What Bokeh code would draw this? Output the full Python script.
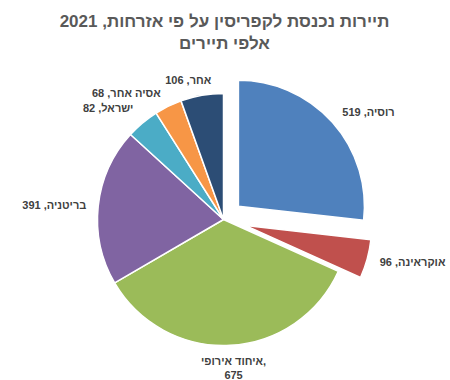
import math
from bokeh.plotting import figure
from bokeh.models import Range1d
from bokeh.embed import file_html
from bokeh.resources import INLINE
from bokeh.core.properties import value

# ---- data ----
categories = ["רוסיה", "אוקראינה", "איחוד אירופי", "בריטניה", "ישראל", "אסיה אחר", "אחר"]
visitors = [519, 96, 675, 391, 82, 68, 106]
title_lines = ["תיירות נכנסת לקפריסין על פי אזרחות, 2021", "אלפי תיירים"]

# ---- style ----
colors = ["#4F81BD", "#C0504D", "#9BBB59", "#8064A2", "#4BACC6", "#F79646", "#2C4D75"]
explode = [20, 23, 0, 0, 0, 0, 0]
# label layout: (radius, dx, dy, align, baseline)
label_layout = [
    (162, -2, 0, "left", "middle"),
    (162, 0, 0, "left", "middle"),
    (136, 3, 0, "center", "top"),
    (138, 0, 0, "right", "middle"),
    (145, 3, 0, "right", "middle"),
    (141, -1, 0, "right", "middle"),
    (142, 12, 0, "right", "middle"),
]
FONT = "Liberation Sans"

W, H = 450, 380
cx, cy, R = 223, 161, 126

p = figure(width=W, height=H, x_range=Range1d(0, W), y_range=Range1d(0, H),
           output_backend="svg", toolbar_location=None, min_border=0,
           x_axis_location=None, y_axis_location=None)
p.grid.visible = False
p.outline_line_color = None
p.background_fill_color = "white"
p.border_fill_color = "white"

total = sum(visitors)
acc = 0.0
for i, (cat, v) in enumerate(zip(categories, visitors)):
    t0 = acc / total * 2 * math.pi
    acc += v
    t1 = acc / total * 2 * math.pi
    bis = (t0 + t1) / 2
    e = explode[i]
    x0 = cx + e * math.sin(bis)
    y0 = cy + e * math.cos(bis)
    p.wedge(x=[x0], y=[y0], radius=R,
            start_angle=math.pi / 2 - t0, end_angle=math.pi / 2 - t1,
            direction="clock", fill_color=colors[i],
            line_color="white", line_width=1.5)
    r, dx, dy, align, base = label_layout[i]
    lx = cx + r * math.sin(bis) + dx
    ly = cy + r * math.cos(bis) - dy
    if align == "center":
        txt = f"{cat},\n{v}"
    else:
        txt = f"{cat}, {v}"
    p.text(x=[lx], y=[ly], text=[txt], text_font=value(FONT),
           text_font_size="11px", text_font_style="bold",
           text_color="#404040", text_align=align, text_baseline=base,
           text_line_height=1.1)

title_y = [359, 337]
for line, ty in zip(title_lines, title_y):
    p.text(x=[224], y=[ty], text=[line], text_font=value(FONT),
           text_font_size="17px", text_font_style="bold",
           text_color="#595959", text_align="center", text_baseline="middle")

open("out.html", "w").write(file_html(p, INLINE))
